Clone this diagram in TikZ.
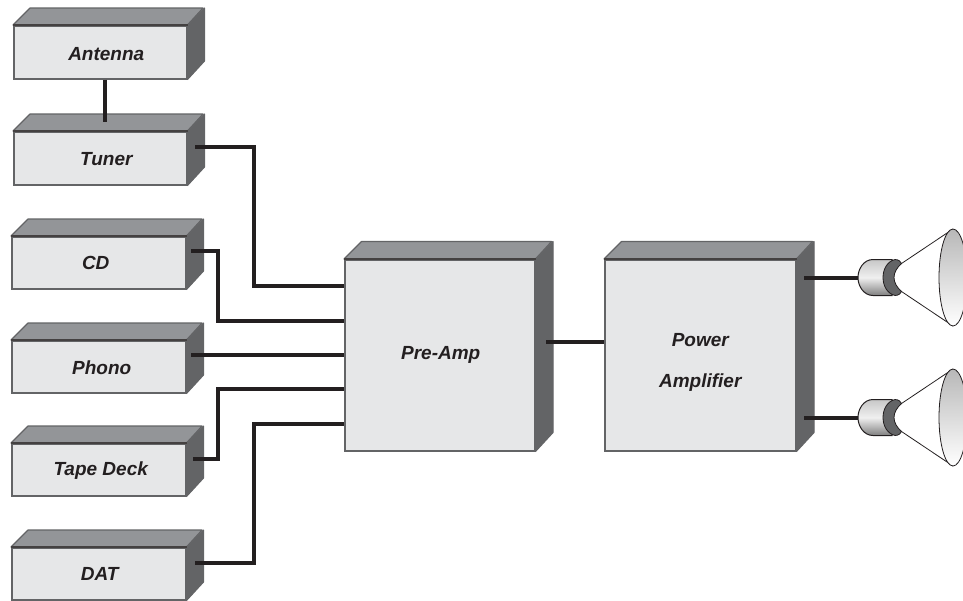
\documentclass[tikz,border=0pt]{standalone}
\usepackage{fontspec}
\setmainfont{Liberation Sans}
\usetikzlibrary{calc}
\definecolor{frontc}{HTML}{E6E7E8}
\definecolor{topc}{HTML}{939598}
\definecolor{sidec}{HTML}{636466}
\definecolor{edgec}{HTML}{636466}
\definecolor{wirec}{HTML}{231F20}
\tikzset{
  x=1pt,y=-1pt,
  frontface/.style={draw=edgec,line width=1.5pt,fill=frontc,anchor=north west,inner sep=0pt},
  boxlabel/.style={inner sep=0pt,align=center,
    font=\fontsize{19}{41}\selectfont\bfseries\itshape,text=wirec},
  topface/.style={draw=edgec,line width=1.1pt,fill=topc,line join=round},
  sideface/.style={draw=edgec,line width=1.1pt,fill=sidec,line join=round},
  wire/.style={draw=wirec,line width=3.2pt,line join=miter},
  coneline/.style={draw=wirec,line width=0.8pt},
}
\newcommand{\cbox}[9]{% name, x, y, w, h, depth, text, text dx, text dy
  \node[frontface,minimum width=#4pt,minimum height=#5pt] (#1) at (#2,#3) {};
  \draw[topface] (#1.north west) -- ++(#6,-#6) -- ++(#4,0) -- (#1.north east) -- cycle;
  \draw[sideface] (#1.north east) -- ++(#6,-#6) -- ++(0,#5) -- (#1.south east) -- cycle;
  \draw[draw=wirec!85,line width=1.2pt] (#1.north west) -- (#1.north east);
  \node[boxlabel] (#1label) at ($(#1.center)+(#8,#9)$) {#7};
}
\newcommand{\spk}[2]{% name, y centre
  \coordinate (#1) at (858,#2);
  \draw[coneline] (900,#2-13) -- (953,#2-48.5);
  \draw[coneline] (900,#2+13) -- (953,#2+48.5);
  \begin{scope}
    \clip (930,#2-60) rectangle (963,#2+60);
    \draw[coneline,top color=black!28,bottom color=white] (953,#2) ellipse [x radius=14,y radius=48.5];
  \end{scope}
  \draw[coneline,line width=1pt,top color=black!22,bottom color=black!50,middle color=white!94!black]
    (892,#2-18) -- (873,#2-18) .. controls (864,#2-18) and (858,#2-9) .. (858,#2)
    .. controls (858,#2+9) and (864,#2+18) .. (873,#2+18) -- (892,#2+18) -- cycle;
  \draw[coneline,line width=0.8pt,fill=sidec]
    (895,#2-18) .. controls (899,#2-18) and (901,#2-15.5) .. (901.5,#2-14)
    .. controls (897,#2-10) and (894,#2-5) .. (894,#2)
    .. controls (894,#2+5) and (897,#2+10) .. (901.5,#2+14)
    .. controls (901,#2+15.5) and (899,#2+18) .. (895,#2+18)
    .. controls (887,#2+16) and (883,#2+8) .. (883,#2)
    .. controls (883,#2-8) and (887,#2-16) .. (895,#2-18) -- cycle;
}
\begin{document}
\begin{tikzpicture}
\useasboundingbox (0,0) rectangle (963,600);
\cbox{antenna}{13}{25}{173}{53}{17}{Antenna}{6}{1.5}
\cbox{tuner}{13}{131}{173}{53}{17}{Tuner}{6}{0.5}
\cbox{cd}{11}{236}{174}{52}{17}{CD}{-3}{0.5}
\cbox{phono}{11}{340}{174}{52}{17}{Phono}{3}{0.5}
\cbox{tape}{11}{443}{174}{52}{17}{Tape Deck}{2}{0.5}
\cbox{dat}{11}{547}{174}{52}{17}{DAT}{1}{0.5}
\cbox{pre}{344}{259}{190}{191}{17.5}{Pre-Amp}{1}{0}
\cbox{pow}{604}{259}{191}{191}{17.5}{Power\\Amplifier}{0}{7}
\spk{spkA}{277.5}
\spk{spkB}{417.5}
\coordinate (tunerout) at (195,147);
\coordinate (cdout) at (191,251);
\coordinate (phonoout) at (191,355);
\coordinate (tapeout) at (193,459);
\coordinate (datout) at (195,563);
\coordinate (preout) at (546,342);
\coordinate (powoutA) at (804,278);
\coordinate (powoutB) at (804,418);
\coordinate (antin) at (105,122);
\draw[wire] (antenna.south -| antin) -- (antin);
\draw[wire] (tunerout) -| (254,286) -- (pre.west |- 0,286);
\draw[wire] (cdout) -| (218,321) -- (pre.west |- 0,321);
\draw[wire] (phonoout) -- (pre.west |- phonoout);
\draw[wire] (tapeout) -| (218,389) -- (pre.west |- 0,389);
\draw[wire] (datout) -| (254,424) -- (pre.west |- 0,424);
\draw[wire] (preout) -- (pow.west |- preout);
\draw[wire] (powoutA) -- (spkA |- powoutA);
\draw[wire] (powoutB) -- (spkB |- powoutB);
\end{tikzpicture}
\end{document}
